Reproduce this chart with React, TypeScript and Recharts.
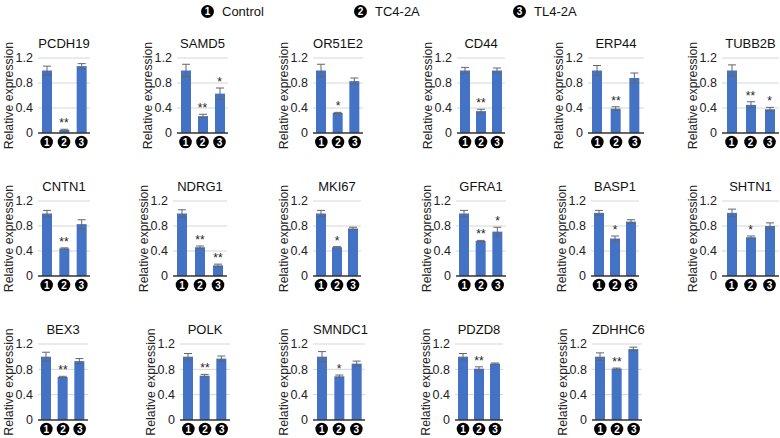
import { ComposedChart, Bar, ErrorBar, XAxis, YAxis, CartesianGrid, Scatter, Label } from 'recharts'

const genes = ['PCDH19', 'SAMD5', 'OR51E2', 'CD44', 'ERP44', 'TUBB2B', 'CNTN1', 'NDRG1', 'MKI67', 'GFRA1', 'BASP1', 'SHTN1', 'BEX3', 'POLK', 'SMNDC1', 'PDZD8', 'ZDHHC6']
const groups = ['1', '2', '3']
const groupNames = ['Control', 'TC4-2A', 'TL4-2A']

const controlMean = [1, 1, 1, 1, 1, 1, 1, 1, 1, 1, 1.01, 1.01, 1, 1, 1, 1, 1]
const controlErr = [0.07, 0.1, 0.1, 0.05, 0.08, 0.09, 0.05, 0.06, 0.05, 0.05, 0.04, 0.06, 0.07, 0.05, 0.08, 0.05, 0.06]
const tc4Mean = [0.05, 0.27, 0.32, 0.35, 0.39, 0.45, 0.44, 0.46, 0.46, 0.56, 0.6, 0.62, 0.68, 0.7, 0.69, 0.81, 0.81]
const tc4Err = [0.01, 0.03, 0.01, 0.03, 0.03, 0.05, 0.01, 0.02, 0.01, 0.01, 0.04, 0.02, 0.01, 0.02, 0.02, 0.03, 0.01]
const tl4Mean = [1.07, 0.63, 0.83, 1.0, 0.88, 0.38, 0.83, 0.17, 0.76, 0.71, 0.87, 0.8, 0.93, 0.97, 0.89, 0.89, 1.12]
const tl4Err = [0.04, 0.09, 0.05, 0.04, 0.08, 0.03, 0.07, 0.02, 0.02, 0.07, 0.03, 0.05, 0.04, 0.04, 0.04, 0.01, 0.03]
const tc4Sig = ['**', '**', '*', '**', '**', '**', '**', '**', '*', '**', '*', '*', '**', '**', '*', '**', '**']
const tl4Sig = ['', '*', '', '', '', '*', '', '**', '', '*', '', '', '', '', '', '', '']

const yTicks = [0, 0.4, 0.8, 1.2]
const gridValues = [0.2, 0.4, 0.6, 0.8, 1.0, 1.2]

// layout (page px): y of the 1.2 line per row, plot heights, plot left / width per panel
const rowTop = [58, 201, 344]
const rowPlotH = [75, 75, 76]
const panelRow = [0, 0, 0, 0, 0, 0, 1, 1, 1, 1, 1, 1, 2, 2, 2, 2, 2]
const panelLeft = [38, 177, 313, 457, 588, 722, 38, 173, 313, 456, 591, 722, 38, 180, 313, 455, 592]
const panelWidth = [52, 51, 50, 48, 56, 57, 52, 54, 48, 50, 48, 57, 50, 50, 52, 48, 50]

const FONT = '"Liberation Sans", Arial, Helvetica, sans-serif'
const BLUE = '#4472C4'
const YW = 40
const MT = 28
const XH = 22

function CircleTick(props: any) {
  const { x, y, payload } = props
  return (
    <g>
      <circle cx={x} cy={y + 9} r={6.3} fill="#000" />
      <text x={x} y={y + 12.6} textAnchor="middle" fill="#fff" fontSize={10} fontWeight="bold" fontFamily={FONT}>
        {payload.value}
      </text>
    </g>
  )
}

function Star(props: any) {
  const { cx, cy, payload } = props
  if (!payload || !payload.sig || cy == null || isNaN(cy)) return <g />
  return (
    <text x={cx} y={cy - 2} textAnchor="middle" fontSize={12} fill="#222" fontFamily={FONT}>
      {payload.sig}
    </text>
  )
}

function Panel({ i }: { i: number }) {
  const r = panelRow[i]
  const w = panelWidth[i]
  const ph = rowPlotH[r]
  const rows = groups.map((g, k) => {
    const v = [controlMean[i], tc4Mean[i], tl4Mean[i]][k]
    const e = [controlErr[i], tc4Err[i], tl4Err[i]][k]
    const sig = ['', tc4Sig[i], tl4Sig[i]][k]
    return { g, v, e, sig, top: sig ? v + e : null }
  })
  return (
    <div style={{ position: 'absolute', left: panelLeft[i] - YW, top: rowTop[r] - MT }}>
      <ComposedChart width={YW + w + 1} height={MT + ph + XH} data={rows} margin={{ top: MT, right: 1, bottom: 0, left: 0 }}>
        <CartesianGrid vertical={false} horizontalValues={gridValues} stroke="#d6d6d6" />
        <XAxis dataKey="g" type="category" height={XH} tickLine={false} tickSize={0} tickMargin={0}
          axisLine={{ stroke: '#333', strokeWidth: 1.6 }} tick={<CircleTick />} interval={0} />
        <YAxis domain={[0, 1.2]} ticks={yTicks} width={YW} axisLine={false} tickLine={false} tickSize={0} tickMargin={5}
          tick={{ fontSize: 12.5, fill: '#222', fontFamily: FONT }} tickFormatter={(t: number) => String(t)}>
          <Label
            content={(p: any) => {
              const vb = p.viewBox
              const cx = vb.x + 11
              const cy = vb.y + vb.height / 2
              return (
                <text x={cx} y={cy} transform={`rotate(-90 ${cx} ${cy})`} textAnchor="middle" dominantBaseline="central"
                  fontSize={12.3} fill="#222" fontFamily={FONT}>
                  Relative expression
                </text>
              )
            }}
          />
        </YAxis>
        <Bar dataKey="v" fill={BLUE} barSize={10} isAnimationActive={false}>
          <ErrorBar dataKey="e" width={4} stroke="#666" strokeWidth={1} direction="y" />
        </Bar>
        <Scatter dataKey="top" shape={<Star />} isAnimationActive={false} />
      </ComposedChart>
      <div
        style={{
          position: 'absolute', left: YW, width: w, top: MT - 22, textAlign: 'center',
          fontSize: 13, fontFamily: FONT, color: '#111', whiteSpace: 'nowrap',
        }}
      >
        {genes[i]}
      </div>
    </div>
  )
}

function Badge({ n }: { n: string }) {
  return (
    <span
      style={{
        display: 'inline-block', width: 13, height: 13, borderRadius: '50%', background: '#000', color: '#fff',
        fontSize: 10, fontWeight: 'bold', lineHeight: '13px', textAlign: 'center', fontFamily: FONT,
      }}
    >
      {n}
    </span>
  )
}

const legendLeft = [201, 354, 513]

export default function App() {
  return (
    <div style={{ position: 'absolute', left: 0, top: 0, width: 780, height: 438, background: '#fff', overflow: 'hidden' }}>
      {groupNames.map((name, k) => (
        <div key={name} style={{ position: 'absolute', left: legendLeft[k], top: 4, display: 'flex', alignItems: 'center', gap: 8, fontFamily: FONT, fontSize: 13, color: '#111' }}>
          <Badge n={groups[k]} />
          <span>{name}</span>
        </div>
      ))}
      {genes.map((_, i) => (
        <Panel key={i} i={i} />
      ))}
    </div>
  )
}
